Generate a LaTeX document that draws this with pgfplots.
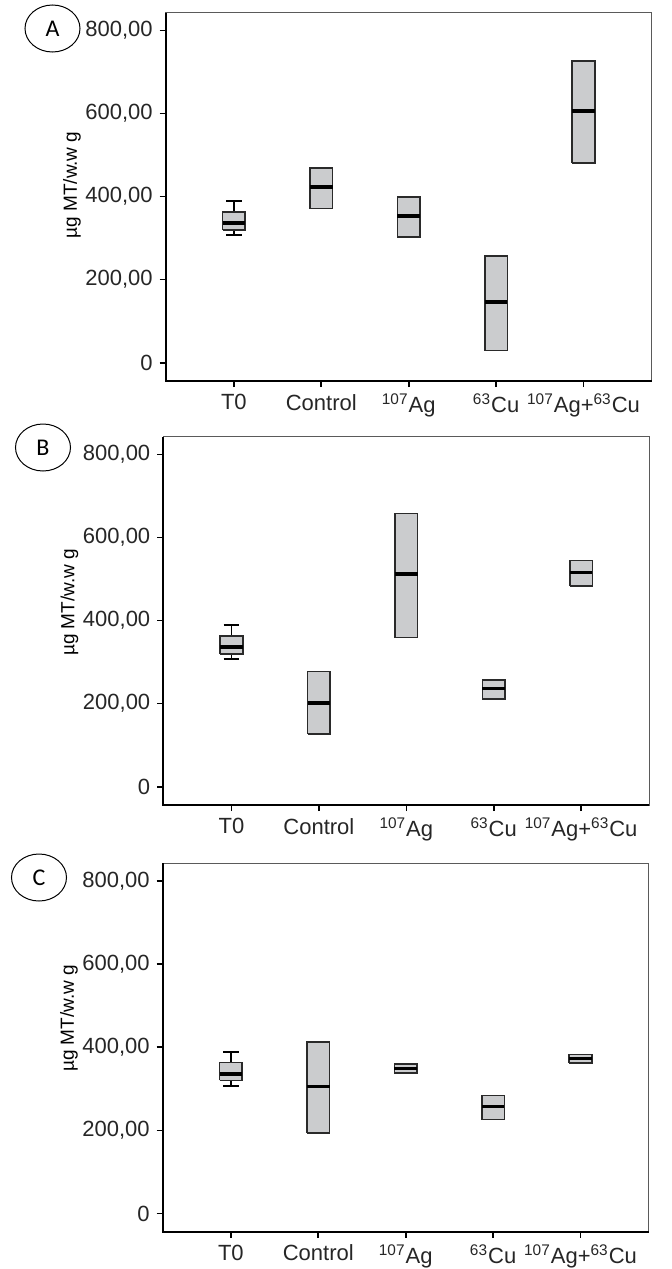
\documentclass[border=0pt]{standalone}
\usepackage{fontspec}
\setmainfont{Liberation Sans}
\newfontfamily\carlito{Carlito}
\usepackage{pgfplots}
\pgfplotsset{compat=1.18}
\usetikzlibrary{shapes.geometric}
\definecolor{boxfill}{HTML}{CBCCCE}
\definecolor{boxdraw}{HTML}{2A2A2A}
\definecolor{framegray}{HTML}{5A5A5A}

\pgfplotsset{
  panel/.style={
    scale only axis, width=243pt, height=184.25pt,
    xmin=0.22, xmax=5.78, ymin=-44, ymax=843,
    clip=false,
    axis line style={draw=none},
    xtick={1,2,3,4,5},
    xticklabels={T0, Control, \textsuperscript{107}Ag, \textsuperscript{63}Cu, \textsuperscript{107}Ag+\textsuperscript{63}Cu},
    ytick={0,200,400,600,800},
    yticklabels={0,{200,00},{400,00},{600,00},{800,00}},
    tick align=outside, xtick pos=left, ytick pos=left,
    major tick length=3pt,
    tick style={black, line width=0.8pt},
    ticklabel style={font=\fontsize{11}{13}\selectfont, text=black!85},
    ylabel={µg MT/w.w g},
  },
}
\newcommand{\panelframe}{%
  \draw[framegray, line width=0.6pt] (rel axis cs:0,0) rectangle (rel axis cs:1,1);
  \draw[black, line width=1pt] (rel axis cs:0,1) -- (rel axis cs:0,0) -- (rel axis cs:1,0);
}
% box: left x, right x, lower quartile, median, upper quartile
\newcommand{\bx}[5]{%
  \addplot[boxdraw, fill=boxfill, line width=0.8pt] coordinates {(#1,#3) (#2,#3) (#2,#5) (#1,#5) (#1,#3)};
  \addplot[black, line width=1.7pt] coordinates {(#1,#4) (#2,#4)};
}
% whiskers of T0: lower whisker, lower quartile, upper quartile, upper whisker
\newcommand{\whT}[4]{%
  \addplot[black, line width=0.8pt] coordinates {(1,#1) (1,#2)};
  \addplot[black, line width=0.8pt] coordinates {(1,#3) (1,#4)};
  \addplot[black, line width=0.8pt] coordinates {(0.91,#1) (1.09,#1)};
  \addplot[black, line width=0.8pt] coordinates {(0.91,#4) (1.09,#4)};
}

\begin{document}
\begin{tikzpicture}
\useasboundingbox (0pt,0pt) rectangle (336pt,-634.5pt);

% ---------------- Panel A
\begin{axis}[panel, at={(82.85pt,-190.5pt)}, anchor=south west,
  ylabel style={font=\fontsize{9.5}{11}\selectfont, at={(axis description cs:-0.193,0.532)}, anchor=center}]
\whT{307}{320}{363}{389}
\bx{0.87}{1.13}{320}{336}{363}
\bx{1.87}{2.13}{371}{423}{468}
\bx{2.87}{3.13}{303}{353}{399}
\bx{3.87}{4.13}{29}{146}{257}
\bx{4.87}{5.13}{481}{606}{726}
\panelframe
\end{axis}

% ---------------- Panel B
\begin{axis}[panel, at={(81.65pt,-402.5pt)}, anchor=south west,
  ylabel style={font=\fontsize{9.5}{11}\selectfont, at={(axis description cs:-0.193,0.55)}, anchor=center}]
\whT{307}{320}{363}{389}
\bx{0.87}{1.13}{320}{336}{363}
\bx{1.87}{2.13}{127}{202}{277}
\bx{2.87}{3.13}{359}{512}{658}
\bx{3.87}{4.13}{211}{237}{257}
\bx{4.87}{5.13}{483}{516}{545}
\panelframe
\end{axis}

% ---------------- Panel C
\begin{axis}[panel, at={(81.35pt,-615.85pt)}, anchor=south west,
  ylabel style={font=\fontsize{9.5}{11}\selectfont, at={(axis description cs:-0.193,0.579)}, anchor=center}]
\whT{307}{320}{363}{389}
\bx{0.87}{1.13}{320}{336}{363}
\bx{1.87}{2.13}{194}{306}{412}
\bx{2.87}{3.13}{338}{349}{359}
\bx{3.87}{4.13}{226}{257}{284}
\bx{4.87}{5.13}{362}{373}{383}
\panelframe
\end{axis}

% panel letters
\tikzset{plab/.style={draw, ellipse, minimum width=27.5pt, minimum height=23.5pt, inner sep=0pt, line width=0.5pt, font=\carlito\fontsize{12}{14}\selectfont}}
\node[plab] at (26.25pt,-14.25pt) {A};
\node[plab] at (21.5pt,-223.75pt) {B};
\node[plab] at (19.5pt,-438.75pt) {C};
\end{tikzpicture}
\end{document}
